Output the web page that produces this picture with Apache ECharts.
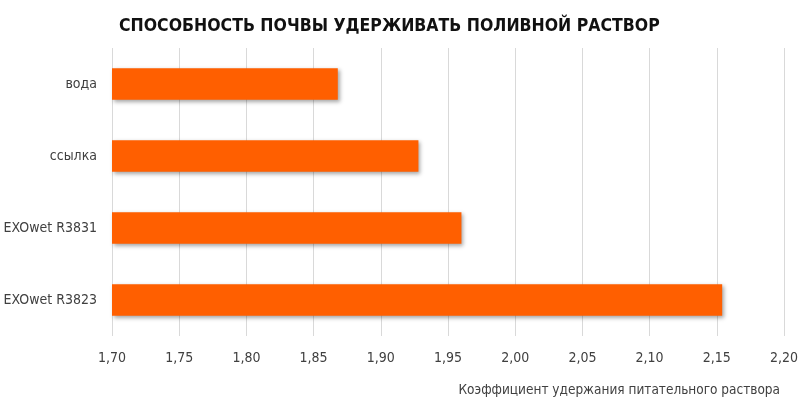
<!DOCTYPE html>
<html>
<head>
    <meta charset="UTF-8">
    <title></title>
    <style>
        html, body { margin: 0; padding: 0; background: #fff; }
        #container { width: 809px; height: 402px; }
    </style>
</head>
<body>
    <div id="container"></div>
    <script src="https://cdn.jsdelivr.net/npm/echarts@6/dist/echarts.min.js"></script>
    <script type="text/javascript">
        // данные
        var categories = ['вода', 'ссылка', 'EXOwet R3831', 'EXOwet R3823'];
        var values = [1.868, 1.928, 1.960, 2.154];
        var axisMin = 1.70;
        var axisMax = 2.20;
        var axisStep = 0.05;

        var font = "'DejaVu Sans Condensed', 'Liberation Sans Narrow', sans-serif";

        var myChart = echarts.init(document.getElementById('container'));
        var option = {
            animation: false,
            title: {
                text: 'СПОСОБНОСТЬ ПОЧВЫ УДЕРЖИВАТЬ ПОЛИВНОЙ РАСТВОР',
                left: 114,
                top: 12,
                textStyle: {
                    fontFamily: font,
                    fontWeight: 'bold',
                    fontSize: 17.5,
                    color: '#111'
                }
            },
            grid: {
                left: 112,
                right: 25,
                top: 48,
                bottom: 66,
                outerBoundsMode: 'none'
            },
            xAxis: {
                type: 'value',
                min: axisMin,
                max: axisMax,
                interval: axisStep,
                name: 'Коэффициент удержания питательного раствора',
                nameLocation: 'end',
                nameGap: 0,
                nameTextStyle: {
                    fontFamily: font,
                    fontSize: 13.5,
                    color: '#404040',
                    align: 'right',
                    verticalAlign: 'top',
                    padding: [47, 4, 0, 0]
                },
                axisLine: { show: false },
                axisTick: { show: false },
                axisLabel: {
                    fontFamily: font,
                    fontSize: 14,
                    color: '#404040',
                    margin: 15,
                    formatter: function (v) {
                        return v.toFixed(2).replace('.', ',');
                    }
                },
                splitLine: {
                    lineStyle: { color: '#d9d9d9', width: 1 }
                }
            },
            yAxis: {
                type: 'category',
                inverse: true,
                data: categories,
                axisLine: { show: false },
                axisTick: { show: false },
                axisLabel: {
                    fontFamily: font,
                    fontSize: 14,
                    color: '#404040',
                    margin: 15
                }
            },
            series: [{
                type: 'bar',
                data: values,
                barWidth: '44%',
                itemStyle: {
                    color: '#ff5f00',
                    shadowColor: 'rgba(0,0,0,0.35)',
                    shadowBlur: 4,
                    shadowOffsetX: 2,
                    shadowOffsetY: 2
                }
            }]
        };
        myChart.setOption(option);
    </script>
</body>
</html>
